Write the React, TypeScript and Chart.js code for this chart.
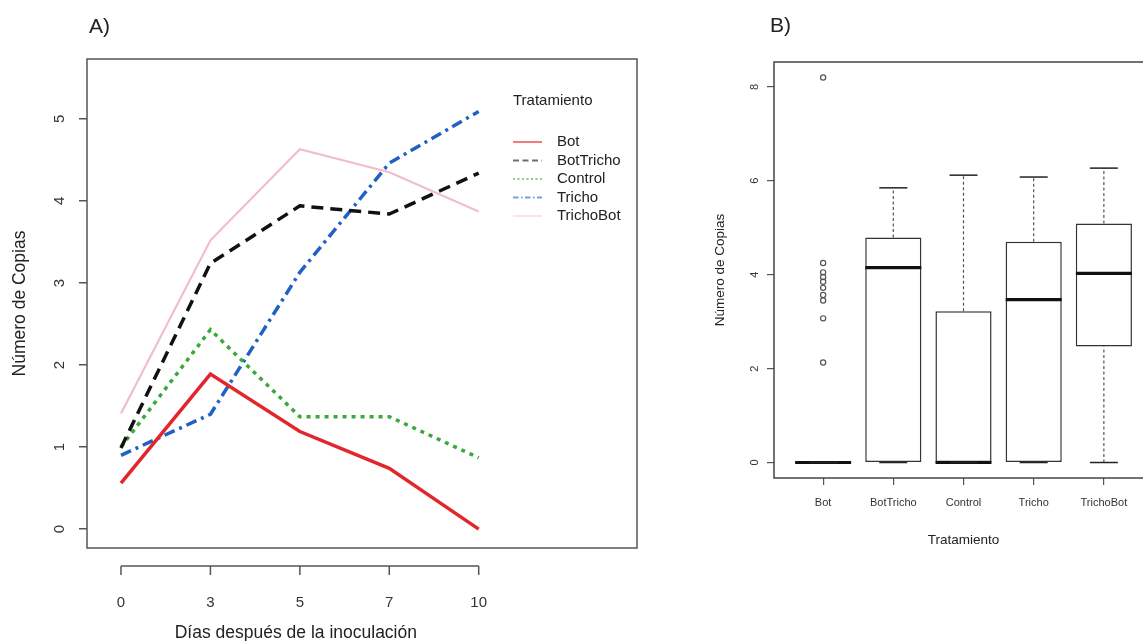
import React, { useEffect, useRef } from 'react';
import { Chart, registerables } from 'chart.js';

Chart.register(...registerables);

const FONT = "'Liberation Sans', Arial, Helvetica, sans-serif";

// ---------- Panel A data ----------
const days = ['0', '3', '5', '7', '10'];
const botSeries = [0.56, 1.89, 1.19, 0.74, 0.0];
const botTrichoSeries = [0.99, 3.24, 3.94, 3.84, 4.34];
const controlSeries = [1.0, 2.43, 1.37, 1.37, 0.87];
const trichoSeries = [0.9, 1.4, 3.13, 4.46, 5.09];
const trichoBotSeries = [1.41, 3.52, 4.63, 4.35, 3.87];
const yTicksA = [0, 1, 2, 3, 4, 5];

// ---------- Panel B data ----------
const treatments = ['Bot', 'BotTricho', 'Control', 'Tricho', 'TrichoBot'];
const boxQ1 = [0, 0, 0, 0, 2.47];
const boxMedian = [0, 4.15, 0, 3.47, 4.03];
const boxQ3 = [0, 4.79, 3.22, 4.7, 5.09];
const whiskerLow = [0, 0, 0, 0, 0];
const whiskerHigh = [0, 5.85, 6.12, 6.08, 6.27];
const botOutliers = [8.2, 4.25, 4.05, 3.95, 3.85, 3.72, 3.57, 3.45, 3.07, 2.13];
const yTicksB = [0, 2, 4, 6, 8];

function LinePanel() {
  const ref = useRef<HTMLCanvasElement>(null);
  useEffect(() => {
    const series = [
      { label: 'Bot', values: botSeries, color: '#e2262b', width: 3.5, dash: [] as number[] },
      { label: 'BotTricho', values: botTrichoSeries, color: '#111111', width: 3.5, dash: [12, 7] },
      { label: 'Control', values: controlSeries, color: '#3aa83a', width: 3.5, dash: [4, 5] },
      { label: 'Tricho', values: trichoSeries, color: '#2160c4', width: 3.5, dash: [11, 5, 3, 5] },
      { label: 'TrichoBot', values: trichoBotSeries, color: '#f1bdc9', width: 2.2, dash: [] as number[] },
    ];
    const overlay = {
      id: 'overlayA',
      afterDraw(chart: any) {
        const { ctx, chartArea } = chart;
        const { left, top, right, bottom } = chartArea;
        const x = chart.scales.x;
        ctx.save();
        ctx.strokeStyle = '#555';
        ctx.lineWidth = 1.5;
        ctx.strokeRect(left, top, right - left, bottom - top);
        // R-style detached x axis
        const x0 = x.getPixelForValue(0);
        const x1 = x.getPixelForValue(days.length - 1);
        const axisY = bottom + 18;
        ctx.beginPath();
        ctx.moveTo(x0, axisY);
        ctx.lineTo(x1, axisY);
        days.forEach((_, i) => {
          const px = x.getPixelForValue(i);
          ctx.moveTo(px, axisY);
          ctx.lineTo(px, axisY + 9);
        });
        ctx.stroke();
        ctx.fillStyle = '#222';
        ctx.textBaseline = 'middle';
        ctx.textAlign = 'center';
        ctx.font = `17.5px ${FONT}`;
        ctx.fillText('Días después de la inoculación', (x0 + x1) / 2 - 4, 633);
        ctx.textAlign = 'left';
        ctx.font = `21px ${FONT}`;
        ctx.fillText('A)', 89, 27);
        // legend
        const lx = right - 124;
        ctx.font = `15px ${FONT}`;
        ctx.fillText('Tratamiento', lx, top + 42);
        chart.data.datasets.forEach((ds: any, i: number) => {
          const y = top + 83 + i * 18.5;
          ctx.save();
          ctx.globalAlpha = 0.6;
          ctx.strokeStyle = ds.borderColor;
          ctx.lineWidth = Math.max(1, ds.borderWidth * 0.6);
          ctx.setLineDash((ds.borderDash || []).map((d: number) => d * 0.5));
          ctx.beginPath();
          ctx.moveTo(lx, y);
          ctx.lineTo(lx + 29, y);
          ctx.stroke();
          ctx.restore();
          ctx.fillStyle = '#222';
          ctx.fillText(ds.label, lx + 44, y);
        });
        ctx.restore();
      },
    };
    const chart = new Chart(ref.current!, {
      type: 'line',
      data: {
        datasets: series.map((s) => ({
          label: s.label,
          data: s.values.map((v, i) => ({ x: i, y: v })),
          borderColor: s.color,
          backgroundColor: s.color,
          borderWidth: s.width,
          borderDash: s.dash,
          pointRadius: 0,
          fill: false,
          tension: 0,
        })),
      },
      options: {
        animation: false,
        responsive: false,
        maintainAspectRatio: false,
        events: [],
        layout: { padding: { left: 0, top: 59, right: 63, bottom: 0 } },
        plugins: { legend: { display: false }, tooltip: { enabled: false }, title: { display: false } },
        scales: {
          x: {
            type: 'linear',
            min: -0.38,
            max: 5.77,
            afterBuildTicks: (s: any) => {
              s.ticks = days.map((_, i) => ({ value: i }));
            },
            afterFit: (s: any) => {
              s.height = 93;
            },
            ticks: {
              callback: (v: any) => days[v],
              padding: 38,
              maxRotation: 0,
              autoSkip: false,
              color: '#333',
              font: { size: 15, family: FONT },
            },
            grid: { display: false },
            border: { display: false },
          },
          y: {
            type: 'linear',
            min: -0.23,
            max: 5.73,
            afterBuildTicks: (s: any) => {
              s.ticks = yTicksA.map((v) => ({ value: v }));
            },
            afterFit: (s: any) => {
              s.width = 87;
            },
            ticks: {
              minRotation: 90,
              maxRotation: 90,
              crossAlign: 'center',
              padding: 15,
              color: '#333',
              font: { size: 15, family: FONT },
              callback: (v: any) => String(v),
            },
            grid: { display: true, drawOnChartArea: false, drawTicks: true, tickLength: 8, color: '#555', lineWidth: 1.5 },
            border: { display: false },
            title: {
              display: true,
              text: 'Número de Copias',
              color: '#222',
              font: { size: 17.5, family: FONT },
              padding: { top: 9.5, bottom: 0 },
            },
          },
        },
      },
      plugins: [overlay],
    } as any);
    return () => chart.destroy();
  }, []);
  return <canvas ref={ref} width={700} height={641} style={{ display: 'block', width: 700, height: 641 }} />;
}

function BoxPanel() {
  const ref = useRef<HTMLCanvasElement>(null);
  useEffect(() => {
    const overlay = {
      id: 'overlayB',
      afterDraw(chart: any) {
        const { ctx, chartArea } = chart;
        const { left, top, right, bottom } = chartArea;
        ctx.save();
        ctx.strokeStyle = '#444';
        ctx.lineWidth = 1.5;
        ctx.strokeRect(left, top, right - left, bottom - top);
        ctx.fillStyle = '#222';
        ctx.textBaseline = 'middle';
        ctx.textAlign = 'left';
        ctx.font = `21px ${FONT}`;
        ctx.fillText('B)', 70, 26);
        ctx.restore();
      },
    };
    const whiskers = treatments.flatMap((_, i) => [
      {
        type: 'line',
        label: 'whiskerHigh' + i,
        data: [{ x: i, y: boxQ3[i] }, { x: i, y: whiskerHigh[i] }],
        borderColor: '#555',
        borderWidth: 1.2,
        borderDash: [3, 2.5],
        pointRadius: 0,
        order: 1,
      },
      {
        type: 'line',
        label: 'whiskerLow' + i,
        data: [{ x: i, y: whiskerLow[i] }, { x: i, y: boxQ1[i] }],
        borderColor: '#555',
        borderWidth: 1.2,
        borderDash: [3, 2.5],
        pointRadius: 0,
        order: 1,
      },
    ]);
    const chart = new Chart(ref.current!, {
      type: 'bar',
      data: {
        datasets: [
          {
            type: 'bar',
            label: 'box',
            data: treatments.map((_, i) => ({ x: i, y: [boxQ1[i], boxQ3[i]] })),
            backgroundColor: '#ffffff',
            borderColor: '#333',
            borderWidth: 1.5,
            borderSkipped: false,
            barPercentage: 0.8,
            categoryPercentage: 1,
            order: 10,
          },
          ...whiskers,
          {
            type: 'line',
            label: 'caps',
            data: [
              ...treatments.map((_, i) => ({ x: i, y: whiskerHigh[i] })),
              ...treatments.map((_, i) => ({ x: i, y: whiskerLow[i] })),
            ],
            showLine: false,
            pointStyle: 'line',
            pointRadius: 14,
            pointBorderWidth: 1.5,
            pointBorderColor: '#222',
            order: 0,
          },
          {
            type: 'line',
            label: 'median',
            data: treatments.map((_, i) => ({ x: i, y: boxMedian[i] })),
            showLine: false,
            pointStyle: 'line',
            pointRadius: 28,
            pointBorderWidth: 3.2,
            pointBorderColor: '#111',
            order: 0,
          },
          {
            type: 'line',
            label: 'outliers',
            data: botOutliers.map((v) => ({ x: 0, y: v })),
            showLine: false,
            pointStyle: 'circle',
            pointRadius: 2.6,
            pointBorderWidth: 1.2,
            pointBorderColor: '#555',
            pointBackgroundColor: 'rgba(0,0,0,0)',
            order: 0,
          },
        ],
      },
      options: {
        animation: false,
        responsive: false,
        maintainAspectRatio: false,
        events: [],
        layout: { padding: { left: 0, top: 62, right: 47, bottom: 0 } },
        plugins: { legend: { display: false }, tooltip: { enabled: false }, title: { display: false } },
        scales: {
          x: {
            type: 'linear',
            min: -0.7,
            max: 4.7,
            offset: false,
            afterBuildTicks: (s: any) => {
              s.ticks = treatments.map((_, i) => ({ value: i }));
            },
            afterFit: (s: any) => {
              s.height = 163;
            },
            ticks: {
              callback: (v: any) => treatments[v],
              padding: 11,
              maxRotation: 0,
              autoSkip: false,
              color: '#333',
              font: { size: 11, family: FONT },
            },
            grid: { display: true, offset: false, drawOnChartArea: false, drawTicks: true, tickLength: 7, color: '#555', lineWidth: 1.2 },
            border: { display: false },
            title: {
              display: true,
              text: 'Tratamiento',
              color: '#222',
              font: { size: 13.5, family: FONT },
              padding: { top: 0, bottom: 93 },
            },
          },
          y: {
            type: 'linear',
            min: -0.33,
            max: 8.53,
            beginAtZero: false,
            afterBuildTicks: (s: any) => {
              s.ticks = yTicksB.map((v) => ({ value: v }));
            },
            afterFit: (s: any) => {
              s.width = 74;
            },
            ticks: {
              minRotation: 90,
              maxRotation: 90,
              crossAlign: 'center',
              padding: 9,
              color: '#333',
              font: { size: 11, family: FONT },
              callback: (v: any) => String(v),
            },
            grid: { display: true, drawOnChartArea: false, drawTicks: true, tickLength: 7, color: '#555', lineWidth: 1.2 },
            border: { display: false },
            title: {
              display: true,
              text: 'Número de Copias',
              color: '#222',
              font: { size: 13.5, family: FONT },
              padding: { top: 12, bottom: 0 },
            },
          },
        },
      },
      plugins: [overlay],
    } as any);
    return () => chart.destroy();
  }, []);
  return <canvas ref={ref} width={500} height={641} style={{ display: 'block', width: 500, height: 641 }} />;
}

export default function App() {
  return (
    <div
      style={{
        position: 'fixed',
        left: 0,
        top: 0,
        width: 1143,
        height: 641,
        overflow: 'hidden',
        background: '#ffffff',
      }}
    >
      <div style={{ position: 'absolute', left: 0, top: 0, width: 700, height: 641 }}>
        <LinePanel />
      </div>
      <div style={{ position: 'absolute', left: 700, top: 0, width: 500, height: 641 }}>
        <BoxPanel />
      </div>
    </div>
  );
}
